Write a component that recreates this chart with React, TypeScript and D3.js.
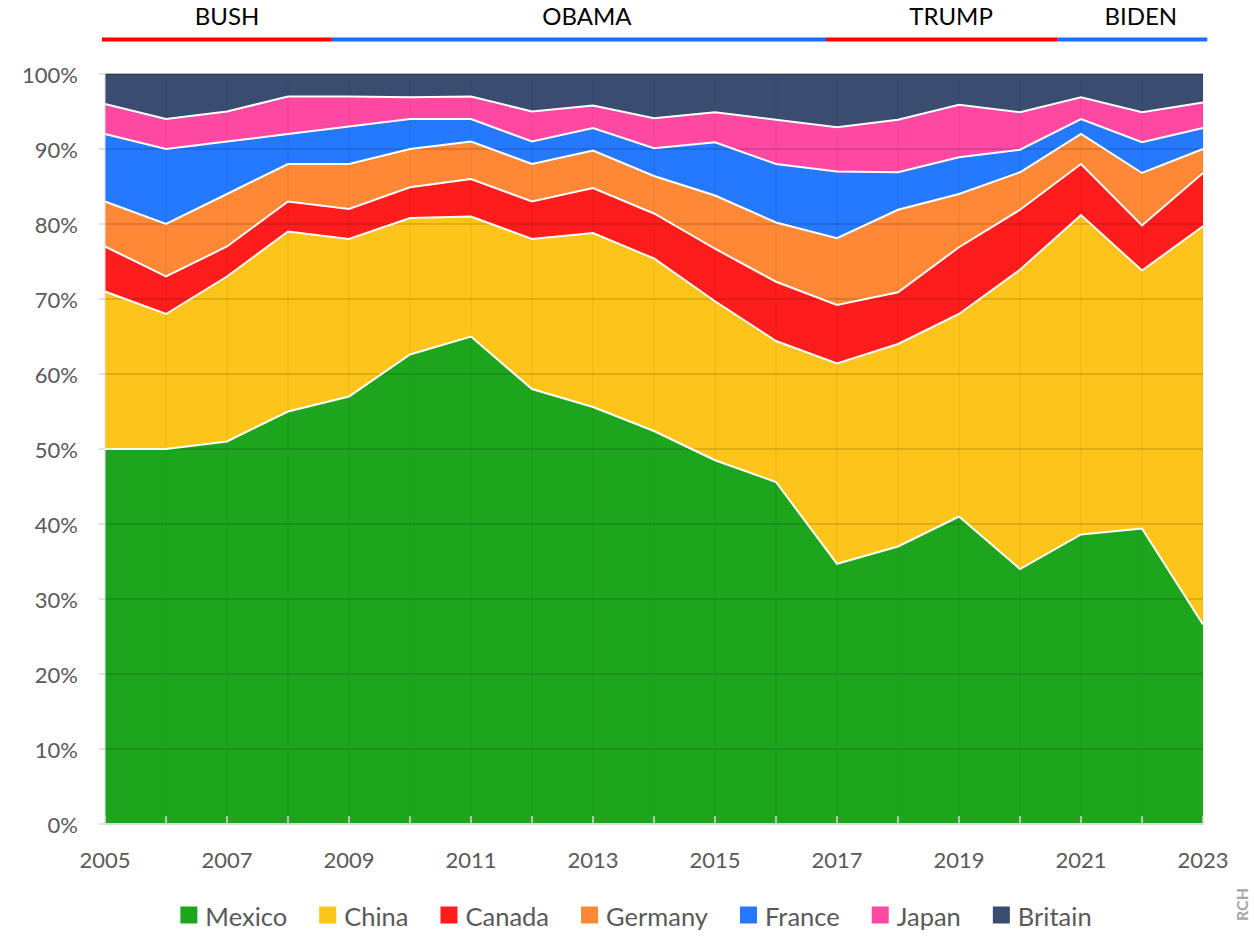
import React, { useEffect, useRef } from "react";
import * as d3 from "d3";

const years = [2005, 2006, 2007, 2008, 2009, 2010, 2011, 2012, 2013, 2014, 2015, 2016, 2017, 2018, 2019, 2020, 2021, 2022, 2023];
const mexico = [50, 50, 51, 55, 57, 62.6, 65, 58, 55.6, 52.4, 48.5, 45.6, 34.7, 37, 41, 34, 38.6, 39.4, 26.6];
const china = [21, 18, 22, 24, 21, 18.2, 16, 20, 23.2, 23, 21.2, 18.8, 26.7, 27, 27, 39.9, 42.6, 34.4, 53.1];
const canada = [6, 5, 4, 4, 4, 4.1, 5, 5, 6, 6, 7, 7.9, 7.8, 6.9, 8.9, 8, 6.8, 6, 7.1];
const germany = [6, 7, 7, 5, 6, 5.1, 5, 5, 5, 5, 7.1, 7.9, 8.9, 11, 7.1, 5, 4, 7, 3.2];
const france = [9, 10, 7, 4, 5, 4, 3, 3, 3, 3.7, 7.1, 7.8, 8.9, 5, 4.9, 3, 2, 4.1, 2.8];
const japan = [4, 4, 4, 5, 4, 2.9, 3, 4, 3, 4, 4, 5.9, 5.9, 7, 7, 5, 2.9, 4, 3.4];
const britain = [4, 6, 5, 3, 3, 3.1, 3, 5, 4.2, 5.9, 5.1, 6.1, 7.1, 6.1, 4.1, 5.1, 3.1, 5.1, 3.8];

const seriesNames = ["Mexico", "China", "Canada", "Germany", "France", "Japan", "Britain"];
const seriesValues = [mexico, china, canada, germany, france, japan, britain];
const seriesColors = ["#1ea51e", "#fdc51a", "#fe1c1c", "#fe8836", "#2479fe", "#fe48a2", "#3a4c70"];

const yTicks = [0, 10, 20, 30, 40, 50, 60, 70, 80, 90, 100];
const xLabelYears = [2005, 2007, 2009, 2011, 2013, 2015, 2017, 2019, 2021, 2023];

const presidents = ["BUSH", "OBAMA", "TRUMP", "BIDEN"];
const presStart = [2004.95, 2008.72, 2016.82, 2020.62];
const presEnd = [2008.72, 2016.82, 2020.62, 2023.07];
const presLabelAt = [2007.0, 2012.9, 2018.87, 2021.98];
const presColors = ["#ff0000", "#1a6dff", "#ff0000", "#1a6dff"];

const W = 1254;
const H = 937;
const FONT = "Lato, 'Open Sans', sans-serif";

export default function App() {
  const legendRef = useRef<SVGGElement | null>(null);

  const x = d3.scaleLinear().domain([2005, 2023]).range([105, 1203]);
  const y = d3.scaleLinear().domain([0, 100]).range([824, 74]);

  const rows = years.map((yr, i) => {
    const r: any = { year: yr };
    seriesNames.forEach((n, k) => (r[n] = seriesValues[k][i]));
    return r;
  });
  const stacked = d3.stack<any>().keys(seriesNames)(rows);

  const area = d3
    .area<any>()
    .x((d) => x(d.data.year))
    .y0((d) => y(d[0]))
    .y1((d) => y(d[1]));
  const topLine = d3
    .line<any>()
    .x((d) => x(d.data.year))
    .y((d) => y(d[1]));

  useEffect(() => {
    const g = legendRef.current;
    if (!g) return;
    const sel = d3.select(g);
    sel.selectAll("*").remove();
    const sq = 17;
    const gapText = 8;
    const gapItem = 32;
    const items: { w: number; node: any }[] = [];
    seriesNames.forEach((n, k) => {
      const it = sel.append("g");
      it.append("rect").attr("x", 0).attr("y", -sq / 2 - 1).attr("width", sq).attr("height", sq).attr("fill", seriesColors[k]);
      const t = it
        .append("text")
        .attr("x", sq + gapText)
        .attr("y", 0)
        .attr("dominant-baseline", "central")
        .attr("font-family", FONT)
        .attr("font-size", 25.5)
        .attr("fill", "#595959")
        .text(n);
      const tw = (t.node() as SVGTextElement).getComputedTextLength();
      items.push({ w: sq + gapText + tw, node: it });
    });
    const total = items.reduce((s, it) => s + it.w, 0) + gapItem * (items.length - 1);
    let cx = 636 - total / 2;
    items.forEach((it) => {
      it.node.attr("transform", `translate(${cx},916)`);
      cx += it.w + gapItem;
    });
  }, []);

  return (
    <svg width={W} height={H} style={{ position: "absolute", left: 0, top: 0, background: "#fff" }}>
      {/* president bars */}
      {presidents.map((p, i) => (
        <g key={p}>
          <line x1={x(presStart[i])} x2={x(presEnd[i])} y1={39.5} y2={39.5} stroke={presColors[i]} strokeWidth={4} />
          <text x={x(presLabelAt[i])} y={15} textAnchor="middle" dominantBaseline="central" fontFamily={FONT} fontSize={24} fill="#000">
            {p}
          </text>
        </g>
      ))}

      {/* areas */}
      {stacked.map((s, k) => (
        <path key={s.key} d={area(s) || ""} fill={seriesColors[k]} />
      ))}

      {/* vertical faint grid */}
      {years.map((yr) => (
        <line key={"v" + yr} x1={x(yr)} x2={x(yr)} y1={y(100)} y2={y(0)} stroke="rgba(0,0,0,0.05)" strokeWidth={1.5} />
      ))}
      {/* horizontal grid */}
      {yTicks.slice(1).map((t) => (
        <line
          key={"h" + t}
          x1={x(2005)}
          x2={x(2023)}
          y1={y(t)}
          y2={y(t)}
          stroke={t === 100 ? "rgba(0,0,0,0.35)" : "rgba(0,0,0,0.12)"}
          strokeWidth={t === 100 ? 1.5 : 2}
        />
      ))}

      {/* white boundaries */}
      {stacked.slice(0, seriesNames.length - 1).map((s) => (
        <path key={"l" + s.key} d={topLine(s) || ""} fill="none" stroke="#fff" strokeWidth={2} strokeLinejoin="miter" />
      ))}

      {/* axes */}
      <line x1={x(2005) - 1} x2={x(2023) + 1} y1={y(0)} y2={y(0)} stroke="#d9d9d9" strokeWidth={2} />
      {years.map((yr) => (
        <line key={"t" + yr} x1={x(yr)} x2={x(yr)} y1={y(0)} y2={y(0) - 8} stroke="#d9d9d9" strokeWidth={1.5} />
      ))}
      {yTicks.map((t) => (
        <line key={"yt" + t} x1={x(2005) - 6} x2={x(2005)} y1={y(t)} y2={y(t)} stroke="#d9d9d9" strokeWidth={1.5} />
      ))}
      <line x1={x(2005)} x2={x(2005)} y1={y(100)} y2={y(0)} stroke="#e6e6e6" strokeWidth={1} />

      {yTicks.map((t) => (
        <text key={"yl" + t} x={78} y={y(t)} textAnchor="end" dominantBaseline="central" fontFamily={FONT} fontSize={22} fill="#595959">
          {t + "%"}
        </text>
      ))}
      {xLabelYears.map((yr) => (
        <text key={"xl" + yr} x={x(yr)} y={859} textAnchor="middle" dominantBaseline="central" fontFamily={FONT} fontSize={22} fill="#595959">
          {yr}
        </text>
      ))}

      <g ref={legendRef} />

      <text
        transform={`translate(1248,888) rotate(-90)`}
        textAnchor="end"
        fontFamily={FONT}
        fontSize={16}
        fontWeight={700}
        fill="#a6a6a6"
      >
        RCH
      </text>
    </svg>
  );
}
